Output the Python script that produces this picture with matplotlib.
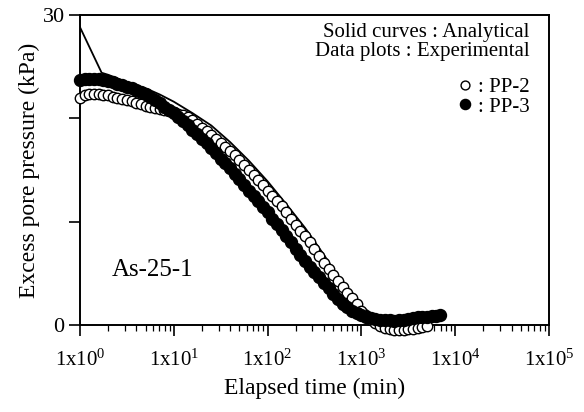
import matplotlib
matplotlib.use("Agg")
import matplotlib.pyplot as plt
from matplotlib.ticker import FixedLocator, LogLocator, NullFormatter

plt.rcParams['font.family'] = ['Liberation Serif', 'DejaVu Serif']
plt.rcParams['mathtext.fontset'] = 'custom'
plt.rcParams['mathtext.rm'] = 'Liberation Serif'
plt.rcParams['mathtext.it'] = 'Liberation Serif:italic'

# PP-2 : open circles
time_pp2 = [1.00, 1.12, 1.26, 1.41, 1.58, 1.78, 2.00, 2.24, 2.51, 2.82,
            3.16, 3.55, 3.98, 4.47, 5.01, 5.62, 6.31, 7.08, 7.94, 8.91,
            10.0, 11.2, 12.6, 14.1, 15.8, 17.8, 20.0, 22.4, 25.1, 28.2,
            31.6, 35.5, 39.8, 44.7, 50.1, 56.2, 63.1, 70.8, 79.4, 89.1,
            100, 112, 126, 141, 158, 178, 200, 224, 251, 282,
            316, 355, 398, 447, 501, 562, 631, 708, 794, 891,
            1000, 1120, 1260, 1410, 1580, 1780, 2000, 2240, 2510, 2820,
            3160, 3550, 3980, 4470, 5010]
pres_pp2 = [22.0, 22.2, 22.3, 22.3, 22.3, 22.2, 22.2, 22.1, 22.0, 21.9,
            21.8, 21.7, 21.5, 21.4, 21.2, 21.1, 21.0, 20.9, 20.8, 20.7,
            20.6, 20.45, 20.3, 20.1, 19.8, 19.4, 19.1, 18.8, 18.4, 18.0,
            17.6, 17.2, 16.8, 16.4, 16.0, 15.5, 15.0, 14.5, 14.0, 13.5,
            13.0, 12.5, 12.0, 11.5, 10.9, 10.3, 9.7, 9.1, 8.6, 8.0,
            7.4, 6.7, 6.0, 5.4, 4.8, 4.3, 3.7, 3.1, 2.6, 2.0,
            1.4, 0.9, 0.5, 0.2, -0.1, -0.3, -0.4, -0.5, -0.5, -0.5,
            -0.4, -0.4, -0.3, -0.2, -0.1]

# PP-3 : filled circles
time_pp3 = [1.00, 1.12, 1.26, 1.41, 1.58, 1.78, 2.00, 2.24, 2.51, 2.82,
            3.16, 3.55, 3.98, 4.47, 5.01, 5.62, 6.31, 7.08, 7.94, 8.91,
            10.0, 11.2, 12.6, 14.1, 15.8, 17.8, 20.0, 22.4, 25.1, 28.2,
            31.6, 35.5, 39.8, 44.7, 50.1, 56.2, 63.1, 70.8, 79.4, 89.1,
            100, 112, 126, 141, 158, 178, 200, 224, 251, 282,
            316, 355, 398, 447, 501, 562, 631, 708, 794, 891,
            1000, 1120, 1260, 1410, 1580, 1780, 2000, 2240, 2510, 2820,
            3160, 3550, 3980, 4470, 5010, 5620, 6310, 6900]
pres_pp3 = [23.7, 23.8, 23.8, 23.8, 23.8, 23.7, 23.6, 23.5, 23.3, 23.2,
            23.0, 22.9, 22.7, 22.5, 22.3, 22.1, 21.8, 21.5, 21.1, 20.8,
            20.5, 20.1, 19.7, 19.3, 18.9, 18.5, 18.0, 17.6, 17.1, 16.6,
            16.1, 15.7, 15.2, 14.6, 14.1, 13.5, 13.0, 12.5, 12.0, 11.4,
            10.9, 10.3, 9.8, 9.2, 8.6, 8.0, 7.4, 6.8, 6.2, 5.6,
            5.1, 4.6, 4.1, 3.6, 3.0, 2.5, 2.0, 1.7, 1.4, 1.2,
            1.0, 0.8, 0.7, 0.6, 0.5, 0.5, 0.5, 0.4, 0.5, 0.5,
            0.6, 0.7, 0.8, 0.8, 0.8, 0.9, 0.9, 1.0]

# analytical solution
time_ana = [1.00, 1.70, 2.00, 3.16, 5.01, 7.08, 10.0, 15.8, 25.1, 39.8,
            63.1, 100, 158, 251, 398, 631, 1000, 1580, 2510, 3980, 6310]
pres_ana = [28.8, 24.4, 24.2, 23.5, 22.9, 22.3, 21.6, 20.5, 19.3, 17.7,
            15.9, 13.9, 11.7, 9.4, 6.8, 4.0, 1.8, 0.6, 0.2, 0.0, 0.0]

x_decades = [0, 1, 2, 3, 4, 5]
y_ticks = [0, 10, 20, 30]
y_labels = ['0', '', '', '30']

fig = plt.figure(figsize=(5.84, 4.12), dpi=100)
ax = fig.add_axes([0.137, 0.211, 0.803, 0.753])

ax.plot(time_ana, pres_ana, color='black', lw=1.3, zorder=2)
pp2, = ax.plot(time_pp2, pres_pp2, 'o', ms=7.5, mfc='white', mec='black',
               mew=1.0, ls='none', clip_on=False, zorder=3)
pp3, = ax.plot(time_pp3, pres_pp3, 'o', ms=8.6, mfc='black', mec='black',
               mew=1.0, ls='none', clip_on=False, zorder=4)

ax.set_xscale('log')
ax.set_xlim(1, 1e5)
ax.set_ylim(0, 30)
ax.xaxis.set_major_locator(FixedLocator([10.0 ** k for k in x_decades]))
ax.set_xticklabels([f'1x10$^{{{k}}}$' for k in x_decades])
ax.xaxis.set_minor_locator(LogLocator(base=10, subs=range(2, 10), numticks=20))
ax.xaxis.set_minor_formatter(NullFormatter())
ax.set_yticks(y_ticks)
ax.set_yticklabels(y_labels)

ax.tick_params(axis='both', which='major', direction='out', length=8,
               width=1.2, labelsize=16, pad=3)
ax.tick_params(axis='x', which='minor', direction='out', length=4, width=0.9)
ax.tick_params(axis='x', which='major', labelsize=15, pad=10)
for s in ax.spines.values():
    s.set_linewidth(1.4)

ax.set_xlabel('Elapsed time (min)', fontsize=17, labelpad=5)
ax.set_ylabel('Excess pore pressure (kPa)', fontsize=17, labelpad=2)

ax.text(0.959, 0.942, 'Solid curves : Analytical', transform=ax.transAxes,
        ha='right', va='center', fontsize=15)
ax.text(0.959, 0.881, 'Data plots : Experimental', transform=ax.transAxes,
        ha='right', va='center', fontsize=15)
ax.legend([pp2, pp3], [': PP-2', ': PP-3'], loc='upper right',
          bbox_to_anchor=(0.99, 0.845), frameon=False, fontsize=15,
          handlelength=0.6, handletextpad=0.3, labelspacing=0.0,
          markerscale=0.85, borderpad=0.2)
ax.text(0.068, 0.177, 'As-25-1', transform=ax.transAxes, ha='left',
        va='center', fontsize=18)

fig.savefig('out.png', dpi=100)
